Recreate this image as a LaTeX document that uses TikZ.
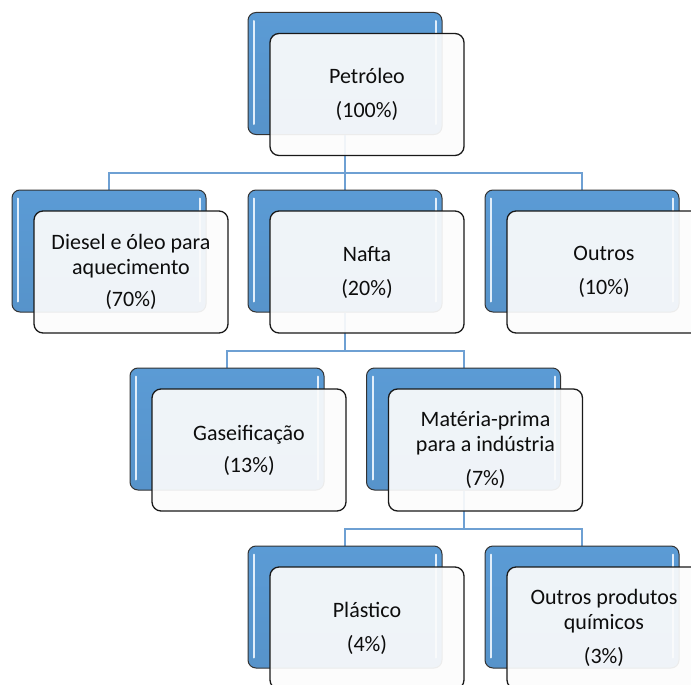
\documentclass[tikz,border=0pt]{standalone}
\usepackage{fontspec}
\setmainfont{Carlito}
\usepackage{tikz}
\usetikzlibrary{backgrounds}
\definecolor{boxblue}{RGB}{91, 155, 213}
\definecolor{linkblue}{RGB}{110, 160, 211}
\definecolor{shine}{RGB}{225, 238, 250}
\definecolor{face}{RGB}{252, 252, 252}

\begin{document}
\begin{tikzpicture}[x=1pt, y=-1pt,
  backbox/.style={draw=black!80, line width=1pt, rounded corners=8pt,
                  top color=boxblue, bottom color=boxblue!95!black,
                  minimum width=194pt, minimum height=122pt, inner sep=0pt},
  frontbox/.style={draw=black!90, line width=1.3pt, rounded corners=9pt,
                   fill=face, fill opacity=0.92, text opacity=1,
                   minimum width=194pt, minimum height=122pt, inner sep=0pt,
                   align=center, text=black!95,
                   font=\fontsize{22}{25}\selectfont},
  link/.style={draw=linkblue, line width=2pt},
  gleam/.style={draw=shine, line width=2pt, line cap=round}]

  \useasboundingbox (0, 0) rectangle (691, 685);
  \clip (0, 0) rectangle (691, 685);

  % back boxes
  \node [backbox] (pet) at (345, 73.5) {};
  \node [backbox] (die) at (109, 251) {};
  \node [backbox] (naf) at (345, 251) {};
  \node [backbox] (out) at (582, 251) {};
  \node [backbox] (gas) at (227, 429) {};
  \node [backbox] (mat) at (463.5, 429) {};
  \node [backbox] (pla) at (345, 607) {};
  \node [backbox] (qui) at (582, 607) {};

  \foreach \n in {pet, die, naf, out, gas, mat, pla, qui} {
    \draw [gleam] ([shift={(6.5, 9)}]\n.north west) -- ([shift={(6.5, -11)}]\n.south west);
    \draw [gleam] ([shift={(-6.5, 9)}]\n.north east) -- ([shift={(-6.5, -11)}]\n.south east);
  }

  % connectors
  \begin{scope}[on background layer]
    \draw [link] (pet.south) -- ++(0, 38) -| (die.north);
    \draw [link] (pet.south) -- ++(0, 38) -| (naf.north);
    \draw [link] (pet.south) -- ++(0, 38) -| (out.north);
    \draw [link] (naf.south) -- ++(0, 38) -| (gas.north);
    \draw [link] (naf.south) -- ++(0, 38) -| (mat.north);
    \draw [link] (mat.south) -- ++(0, 38) -| (pla.north);
    \draw [link] (mat.south) -- ++(0, 38) -| (qui.north);
  \end{scope}

  % front boxes
  \node [frontbox] (petf) at ([shift={(22, 21)}]pet.center) {Petróleo\\[9pt](100\%)};
  \node [frontbox] (dief) at ([shift={(22, 21)}]die.center) {Diesel e óleo para\\aquecimento\\[7pt](70\%)};
  \node [frontbox] (naff) at ([shift={(22, 21)}]naf.center) {Nafta\\[9pt](20\%)};
  \node [frontbox] (outf) at ([shift={(22, 21)}]out.center) {Outros\\[9pt](10\%)};
  \node [frontbox] (gasf) at ([shift={(22, 21)}]gas.center) {Gaseificação\\[7pt](13\%)};
  \node [frontbox] (matf) at ([shift={(22, 21)}]mat.center) {Matéria-prima\\para a indústria\\[9pt](7\%)};
  \node [frontbox] (plaf) at ([shift={(22, 21)}]pla.center) {Plástico\\[9pt](4\%)};
  \node [frontbox] (quif) at ([shift={(22, 21)}]qui.center) {Outros produtos\\químicos\\[9pt](3\%)};

\end{tikzpicture}
\end{document}
